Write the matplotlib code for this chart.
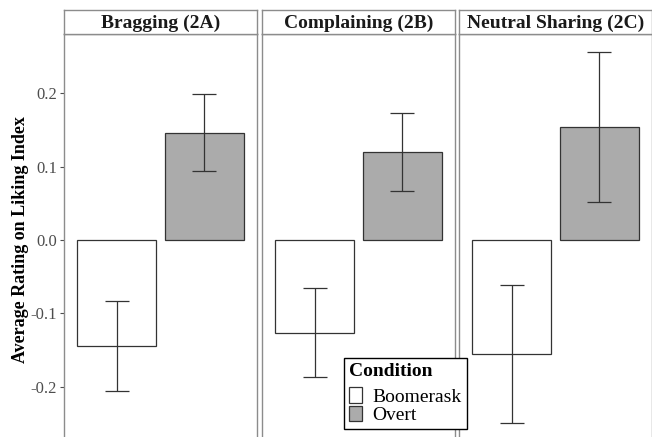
import matplotlib.pyplot as plt
from matplotlib.patches import Patch

plt.rcParams['font.family'] = ['Liberation Serif', 'DejaVu Serif']

panels = ['Bragging (2A)', 'Complaining (2B)', 'Neutral Sharing (2C)']
conditions = ['Boomerask', 'Overt']
colors = ['white', '#ababab']

# mean, lower, upper for each panel: [Boomerask, Overt]
means = [[-0.145, 0.146], [-0.127, 0.120], [-0.155, 0.154]]
lower = [[-0.206, 0.094], [-0.187, 0.067], [-0.250, 0.052]]
upper = [[-0.083, 0.199], [-0.066, 0.173], [-0.062, 0.256]]

yticks = [-0.2, -0.1, 0.0, 0.1, 0.2]

W, H = 652, 437
fig = plt.figure(figsize=(6.52, 4.37), dpi=100)

lefts = [64, 262, 459]
pw = 193
top = 34
strip_h = 24
ymax = (240 - top) / 733
ymin = (240 - H) / 733
edge = '#8c8c8c'

for i, name in enumerate(panels):
    ax = fig.add_axes([lefts[i] / W, 0, pw / W, (H - top) / H])
    x = [1, 2]
    ax.bar(x, means[i], width=0.9, color=colors, edgecolor='#333333', linewidth=0.9, zorder=2)
    for j in range(2):
        ax.errorbar(x[j], means[i][j],
                    yerr=[[means[i][j] - lower[i][j]], [upper[i][j] - means[i][j]]],
                    fmt='none', ecolor='#333333', elinewidth=0.9, capsize=8.5, capthick=0.9, zorder=3)
    ax.set_xlim(0.4, 2.6)
    ax.set_ylim(ymin, ymax)
    ax.set_xticks([])
    for s in ['left', 'right', 'top']:
        ax.spines[s].set_color(edge)
        ax.spines[s].set_linewidth(1.0)
    ax.spines['bottom'].set_visible(False)
    if i == 0:
        ax.set_yticks(yticks)
        ax.set_yticklabels([f'{v:.1f}' for v in yticks], fontsize=12, color='#4d4d4d')
        ax.tick_params(axis='y', length=3, color='#4d4d4d', width=0.8, pad=2)
        ax.set_ylabel('Average Rating on Liking Index', fontsize=13, fontweight='bold', labelpad=1)
        ax.yaxis.label.set_y(0.49)
    else:
        ax.set_yticks([])

    # strip header
    sax = fig.add_axes([lefts[i] / W, (H - top) / H, pw / W, strip_h / H])
    sax.set_xticks([])
    sax.set_yticks([])
    for s in sax.spines.values():
        s.set_color(edge)
        s.set_linewidth(1.0)
    sax.text(0.5, 0.45, name, ha='center', va='center', fontsize=14, fontweight='bold',
             color='#1a1a1a', transform=sax.transAxes)

handles = [Patch(facecolor=c, edgecolor='#333333', linewidth=0.9) for c in colors]
leg = fig.legend(handles, conditions, title='Condition', loc='lower left',
                 bbox_to_anchor=(344 / W, 1 - 429 / H), fontsize=14, title_fontsize=14,
                 frameon=True, fancybox=False, edgecolor='black', framealpha=1,
                 handlelength=0.67, handleheight=0.85, handletextpad=0.55, labelspacing=0.0,
                 borderpad=0.25, borderaxespad=0, alignment='left')
leg.get_title().set_fontweight('bold')
leg.get_frame().set_linewidth(1.0)
leg._legend_box.sep = 5

fig.savefig('out.png', dpi=100)
